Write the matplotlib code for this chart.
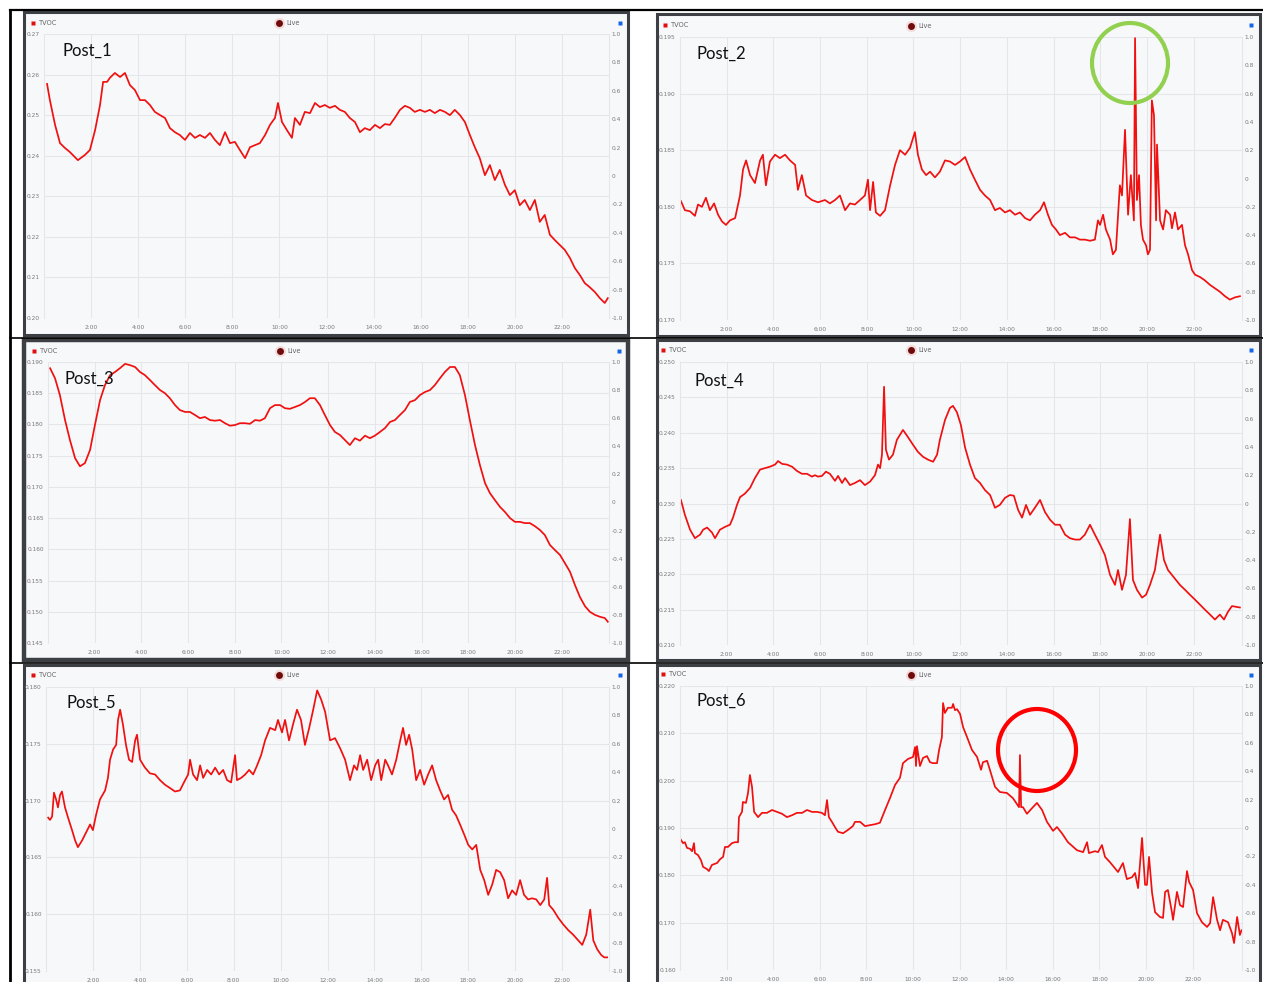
import matplotlib
matplotlib.use('Agg')
import matplotlib.pyplot as plt
from matplotlib.patches import Rectangle, Ellipse

W, H = 1263, 982

# ---------------- data ----------------
hour_ticks = [2, 4, 6, 8, 10, 12, 14, 16, 18, 20, 22]
hour_labels = ['2:00', '4:00', '6:00', '8:00', '10:00', '12:00', '14:00', '16:00', '18:00', '20:00', '22:00']
right_ticks = [1.0, 0.8, 0.6, 0.4, 0.2, 0.0, -0.2, -0.4, -0.6, -0.8, -1.0]
right_labels = ['1.0', '0.8', '0.6', '0.4', '0.2', '0', '-0.2', '-0.4', '-0.6', '-0.8', '-1.0']

p1_hours = [0.13, 0.25, 0.47, 0.68, 0.89, 1.10, 1.44, 1.74, 1.95, 2.17,
            2.38, 2.51, 2.68, 2.80, 3.01, 3.23, 3.44, 3.65, 3.86, 4.08,
            4.29, 4.50, 4.71, 4.93, 5.14, 5.35, 5.56, 5.77, 5.99, 6.20,
            6.41, 6.62, 6.84, 7.05, 7.26, 7.47, 7.69, 7.90, 8.11, 8.32,
            8.54, 8.75, 8.96, 9.17, 9.39, 9.60, 9.81, 9.94, 10.11, 10.32,
            10.53, 10.66, 10.87, 11.08, 11.30, 11.51, 11.72, 11.93, 12.14, 12.36,
            12.57, 12.78, 12.99, 13.21, 13.42, 13.63, 13.84, 14.06, 14.27, 14.48,
            14.69, 14.90, 15.12, 15.33, 15.54, 15.75, 15.97, 16.18, 16.39, 16.60,
            16.82, 17.03, 17.24, 17.45, 17.67, 17.88, 18.09, 18.30, 18.51, 18.73,
            18.94, 19.15, 19.36, 19.58, 19.79, 20.00, 20.21, 20.42, 20.64, 20.85,
            21.06, 21.27, 21.49, 21.70, 21.91, 22.12, 22.34, 22.55, 22.76, 22.97,
            23.18, 23.40, 23.61, 23.82, 23.95]
p1_tvoc = [0.2577, 0.2537, 0.2476, 0.2431, 0.2419, 0.2409, 0.2389, 0.2402, 0.2414, 0.2463,
           0.2525, 0.2582, 0.2582, 0.2592, 0.2604, 0.2594, 0.2604, 0.2574, 0.2562, 0.2537,
           0.2537, 0.2525, 0.2508, 0.2500, 0.2493, 0.2468, 0.2458, 0.2451, 0.2439, 0.2456,
           0.2444, 0.2451, 0.2444, 0.2456, 0.2439, 0.2426, 0.2458, 0.2431, 0.2434, 0.2414,
           0.2394, 0.2421, 0.2426, 0.2431, 0.2451, 0.2476, 0.2493, 0.2530, 0.2483, 0.2463,
           0.2444, 0.2493, 0.2476, 0.2508, 0.2505, 0.2530, 0.2520, 0.2525, 0.2518, 0.2523,
           0.2513, 0.2508, 0.2493, 0.2483, 0.2458, 0.2468, 0.2463, 0.2476, 0.2468, 0.2478,
           0.2476, 0.2493, 0.2513, 0.2523, 0.2518, 0.2508, 0.2513, 0.2508, 0.2513, 0.2505,
           0.2513, 0.2508, 0.2500, 0.2513, 0.2500, 0.2483, 0.2451, 0.2421, 0.2394, 0.2352,
           0.2377, 0.2340, 0.2365, 0.2328, 0.2303, 0.2315, 0.2278, 0.2291, 0.2266, 0.2291,
           0.2237, 0.2254, 0.2205, 0.2192, 0.2180, 0.2168, 0.2148, 0.2123, 0.2106, 0.2086,
           0.2076, 0.2064, 0.2049, 0.2037, 0.2049]
p1_yticks = [0.20, 0.21, 0.22, 0.23, 0.24, 0.25, 0.26, 0.27]

p2_hours = [0.04, 0.21, 0.43, 0.64, 0.77, 0.94, 1.11, 1.28, 1.46, 1.63,
            1.80, 1.97, 2.14, 2.36, 2.57, 2.70, 2.83, 3.00, 3.21, 3.43,
            3.55, 3.68, 3.85, 4.07, 4.28, 4.50, 4.71, 4.93, 5.05, 5.22,
            5.40, 5.65, 5.91, 6.21, 6.42, 6.64, 6.85, 7.07, 7.28, 7.49,
            7.71, 7.92, 8.05, 8.14, 8.27, 8.39, 8.57, 8.78, 9.00, 9.21,
            9.42, 9.64, 9.85, 10.06, 10.19, 10.36, 10.54, 10.71, 10.92, 11.13,
            11.35, 11.56, 11.78, 11.99, 12.21, 12.42, 12.63, 12.85, 13.06, 13.28,
            13.49, 13.70, 13.92, 14.13, 14.35, 14.56, 14.78, 14.99, 15.20, 15.42,
            15.59, 15.76, 15.93, 16.10, 16.27, 16.49, 16.70, 16.92, 17.13, 17.34,
            17.56, 17.77, 17.90, 17.99, 18.12, 18.24, 18.42, 18.54, 18.67, 18.84,
            18.93, 19.06, 19.19, 19.31, 19.44, 19.49, 19.57, 19.66, 19.74, 19.83,
            19.96, 20.04, 20.13, 20.21, 20.30, 20.39, 20.43, 20.56, 20.69, 20.81,
            20.99, 21.07, 21.20, 21.33, 21.50, 21.63, 21.76, 21.93, 22.06, 22.27,
            22.48, 22.70, 22.91, 23.12, 23.34, 23.55, 23.77, 23.98]
p2_tvoc = [0.1805, 0.1797, 0.1796, 0.1792, 0.1802, 0.1800, 0.1808, 0.1797, 0.1803, 0.1793,
           0.1787, 0.1784, 0.1788, 0.1790, 0.1810, 0.1833, 0.1841, 0.1828, 0.1821, 0.1841,
           0.1846, 0.1819, 0.1840, 0.1846, 0.1843, 0.1846, 0.1841, 0.1837, 0.1815, 0.1828,
           0.1810, 0.1806, 0.1804, 0.1806, 0.1803, 0.1806, 0.1810, 0.1797, 0.1803, 0.1802,
           0.1806, 0.1810, 0.1824, 0.1797, 0.1822, 0.1795, 0.1792, 0.1797, 0.1819, 0.1837,
           0.1850, 0.1846, 0.1852, 0.1866, 0.1846, 0.1833, 0.1828, 0.1831, 0.1826, 0.1831,
           0.1841, 0.1840, 0.1837, 0.1840, 0.1844, 0.1833, 0.1824, 0.1815, 0.1810, 0.1806,
           0.1797, 0.1799, 0.1795, 0.1797, 0.1793, 0.1795, 0.1790, 0.1788, 0.1793, 0.1797,
           0.1804, 0.1793, 0.1784, 0.1780, 0.1775, 0.1777, 0.1773, 0.1773, 0.1771, 0.1771,
           0.1770, 0.1771, 0.1788, 0.1784, 0.1793, 0.1780, 0.1771, 0.1758, 0.1762, 0.1819,
           0.1810, 0.1868, 0.1793, 0.1828, 0.1788, 0.1949, 0.1806, 0.1828, 0.1784, 0.1771,
           0.1766, 0.1758, 0.1762, 0.1894, 0.1881, 0.1788, 0.1855, 0.1788, 0.1780, 0.1797,
           0.1793, 0.1781, 0.1795, 0.1780, 0.1784, 0.1766, 0.1758, 0.1744, 0.1740, 0.1738,
           0.1735, 0.1731, 0.1728, 0.1725, 0.1721, 0.1718, 0.1720, 0.1721]
p2_yticks = [0.170, 0.175, 0.180, 0.185, 0.190, 0.195]

p3_hours = [0.09, 0.30, 0.51, 0.73, 0.94, 1.16, 1.37, 1.58, 1.80, 2.01,
            2.23, 2.44, 2.66, 2.87, 3.08, 3.30, 3.51, 3.73, 3.94, 4.15,
            4.37, 4.58, 4.80, 5.01, 5.22, 5.44, 5.65, 5.87, 6.08, 6.30,
            6.51, 6.72, 6.94, 7.15, 7.37, 7.58, 7.79, 8.01, 8.22, 8.44,
            8.65, 8.87, 9.08, 9.29, 9.51, 9.72, 9.94, 10.15, 10.36, 10.58,
            10.79, 11.01, 11.22, 11.43, 11.65, 11.86, 12.08, 12.29, 12.51, 12.72,
            12.93, 13.15, 13.36, 13.58, 13.79, 14.00, 14.22, 14.43, 14.65, 14.86,
            15.07, 15.29, 15.50, 15.72, 15.93, 16.15, 16.36, 16.57, 16.79, 17.00,
            17.22, 17.43, 17.64, 17.86, 18.07, 18.29, 18.50, 18.72, 18.93, 19.14,
            19.36, 19.57, 19.79, 20.00, 20.21, 20.43, 20.64, 20.86, 21.07, 21.28,
            21.50, 21.71, 21.93, 22.14, 22.36, 22.57, 22.78, 23.00, 23.21, 23.43,
            23.64, 23.85, 23.98]
p3_tvoc = [0.1890, 0.1874, 0.1847, 0.1807, 0.1775, 0.1746, 0.1733, 0.1738, 0.1759, 0.1799,
           0.1839, 0.1863, 0.1879, 0.1884, 0.1890, 0.1897, 0.1895, 0.1892, 0.1884, 0.1879,
           0.1871, 0.1863, 0.1855, 0.1850, 0.1842, 0.1831, 0.1823, 0.1820, 0.1820, 0.1815,
           0.1810, 0.1812, 0.1807, 0.1806, 0.1807, 0.1802, 0.1798, 0.1799, 0.1802, 0.1802,
           0.1801, 0.1807, 0.1806, 0.1810, 0.1826, 0.1831, 0.1831, 0.1826, 0.1825, 0.1828,
           0.1831, 0.1836, 0.1842, 0.1842, 0.1831, 0.1815, 0.1799, 0.1788, 0.1783, 0.1775,
           0.1767, 0.1778, 0.1774, 0.1782, 0.1778, 0.1782, 0.1788, 0.1794, 0.1804, 0.1807,
           0.1815, 0.1823, 0.1836, 0.1839, 0.1847, 0.1852, 0.1855, 0.1863, 0.1874, 0.1884,
           0.1892, 0.1892, 0.1879, 0.1847, 0.1807, 0.1767, 0.1735, 0.1706, 0.1690, 0.1679,
           0.1668, 0.1660, 0.1650, 0.1644, 0.1644, 0.1642, 0.1642, 0.1637, 0.1631, 0.1623,
           0.1607, 0.1599, 0.1591, 0.1578, 0.1564, 0.1543, 0.1524, 0.1509, 0.1500, 0.1495,
           0.1492, 0.1490, 0.1484]
p3_yticks = [0.145, 0.150, 0.155, 0.160, 0.165, 0.170, 0.175, 0.180, 0.185, 0.190]

p4_hours = [0.04, 0.21, 0.43, 0.64, 0.86, 0.99, 1.16, 1.37, 1.50, 1.71,
            1.93, 2.14, 2.27, 2.44, 2.57, 2.78, 3.00, 3.21, 3.43, 3.64,
            3.85, 4.07, 4.20, 4.37, 4.58, 4.80, 5.01, 5.22, 5.44, 5.65,
            5.78, 5.91, 6.08, 6.25, 6.42, 6.51, 6.64, 6.77, 6.94, 7.07,
            7.28, 7.49, 7.71, 7.92, 8.14, 8.35, 8.48, 8.57, 8.65, 8.74,
            8.82, 8.95, 9.12, 9.29, 9.55, 9.76, 9.98, 10.19, 10.41, 10.62,
            10.84, 11.01, 11.13, 11.35, 11.56, 11.69, 11.86, 12.03, 12.21, 12.42,
            12.63, 12.85, 13.06, 13.28, 13.49, 13.70, 13.92, 14.13, 14.30, 14.48,
            14.65, 14.82, 14.99, 15.20, 15.42, 15.63, 15.85, 16.06, 16.27, 16.49,
            16.70, 16.92, 17.13, 17.34, 17.56, 17.77, 17.99, 18.20, 18.42, 18.63,
            18.76, 18.93, 19.10, 19.27, 19.40, 19.57, 19.79, 19.96, 20.13, 20.34,
            20.56, 20.73, 20.90, 21.07, 21.24, 21.41, 21.63, 21.84, 22.06, 22.27,
            22.48, 22.70, 22.91, 23.12, 23.30, 23.47, 23.64, 23.81, 23.98]
p4_tvoc = [0.2305, 0.2284, 0.2263, 0.2251, 0.2256, 0.2263, 0.2266, 0.2259, 0.2251, 0.2263,
           0.2267, 0.2270, 0.2280, 0.2298, 0.2309, 0.2314, 0.2322, 0.2336, 0.2348, 0.2350,
           0.2352, 0.2355, 0.2360, 0.2356, 0.2355, 0.2352, 0.2346, 0.2342, 0.2342, 0.2338,
           0.2340, 0.2338, 0.2339, 0.2345, 0.2342, 0.2338, 0.2332, 0.2339, 0.2329, 0.2336,
           0.2326, 0.2329, 0.2333, 0.2326, 0.2331, 0.2340, 0.2355, 0.2350, 0.2369, 0.2465,
           0.2376, 0.2362, 0.2369, 0.2390, 0.2404, 0.2394, 0.2383, 0.2373, 0.2366, 0.2362,
           0.2359, 0.2369, 0.2390, 0.2418, 0.2435, 0.2438, 0.2429, 0.2411, 0.2379, 0.2355,
           0.2336, 0.2329, 0.2319, 0.2312, 0.2294, 0.2298, 0.2308, 0.2312, 0.2311, 0.2291,
           0.2280, 0.2298, 0.2284, 0.2294, 0.2305, 0.2288, 0.2277, 0.2270, 0.2270, 0.2256,
           0.2251, 0.2249, 0.2249, 0.2256, 0.2270, 0.2256, 0.2242, 0.2227, 0.2199, 0.2185,
           0.2206, 0.2178, 0.2199, 0.2278, 0.2192, 0.2178, 0.2167, 0.2171, 0.2185, 0.2206,
           0.2256, 0.2220, 0.2206, 0.2199, 0.2192, 0.2185, 0.2178, 0.2171, 0.2164, 0.2157,
           0.2150, 0.2143, 0.2136, 0.2143, 0.2136, 0.2147, 0.2155, 0.2154, 0.2153]
p4_yticks = [0.210, 0.215, 0.220, 0.225, 0.230, 0.235, 0.240, 0.245, 0.250]

p5_hours = [0.09, 0.17, 0.26, 0.34, 0.43, 0.51, 0.60, 0.68, 0.81, 0.94,
            1.11, 1.24, 1.36, 1.54, 1.71, 1.88, 2.00, 2.13, 2.30, 2.52,
            2.64, 2.73, 2.86, 2.99, 3.07, 3.16, 3.28, 3.41, 3.54, 3.67,
            3.80, 3.88, 4.01, 4.22, 4.43, 4.65, 4.86, 5.07, 5.29, 5.50,
            5.71, 5.93, 6.06, 6.14, 6.27, 6.44, 6.57, 6.70, 6.87, 7.04,
            7.21, 7.38, 7.55, 7.72, 7.89, 8.06, 8.14, 8.32, 8.49, 8.66,
            8.83, 9.00, 9.17, 9.34, 9.55, 9.77, 9.89, 10.06, 10.19, 10.36,
            10.53, 10.70, 10.87, 11.04, 11.22, 11.39, 11.56, 11.73, 11.90, 12.11,
            12.32, 12.54, 12.75, 12.96, 13.13, 13.26, 13.39, 13.52, 13.69, 13.86,
            14.03, 14.16, 14.29, 14.46, 14.58, 14.75, 14.93, 15.10, 15.22, 15.35,
            15.48, 15.61, 15.78, 15.95, 16.12, 16.29, 16.46, 16.63, 16.80, 16.97,
            17.14, 17.31, 17.48, 17.65, 17.83, 18.00, 18.17, 18.34, 18.51, 18.68,
            18.85, 19.02, 19.19, 19.36, 19.53, 19.70, 19.87, 20.04, 20.21, 20.38,
            20.55, 20.72, 20.90, 21.07, 21.24, 21.36, 21.45, 21.62, 21.83, 22.05,
            22.26, 22.47, 22.69, 22.86, 23.03, 23.20, 23.33, 23.50, 23.67, 23.80,
            23.92]
p5_tvoc = [0.1685, 0.1683, 0.1686, 0.1707, 0.1701, 0.1694, 0.1705, 0.1708, 0.1694, 0.1685,
           0.1674, 0.1665, 0.1659, 0.1665, 0.1672, 0.1679, 0.1674, 0.1687, 0.1701, 0.1709,
           0.1720, 0.1736, 0.1745, 0.1749, 0.1771, 0.1780, 0.1767, 0.1749, 0.1736, 0.1734,
           0.1753, 0.1758, 0.1736, 0.1729, 0.1724, 0.1723, 0.1718, 0.1714, 0.1711, 0.1708,
           0.1709, 0.1718, 0.1723, 0.1736, 0.1723, 0.1718, 0.1731, 0.1720, 0.1727, 0.1723,
           0.1729, 0.1723, 0.1727, 0.1718, 0.1716, 0.1740, 0.1718, 0.1720, 0.1723, 0.1727,
           0.1723, 0.1731, 0.1740, 0.1753, 0.1764, 0.1762, 0.1771, 0.1760, 0.1771, 0.1753,
           0.1767, 0.1780, 0.1771, 0.1749, 0.1764, 0.1780, 0.1797, 0.1789, 0.1778, 0.1753,
           0.1755, 0.1746, 0.1736, 0.1718, 0.1731, 0.1727, 0.1740, 0.1727, 0.1736, 0.1718,
           0.1731, 0.1736, 0.1718, 0.1736, 0.1731, 0.1723, 0.1736, 0.1753, 0.1764, 0.1749,
           0.1758, 0.1745, 0.1718, 0.1727, 0.1714, 0.1723, 0.1731, 0.1718, 0.1709, 0.1701,
           0.1705, 0.1692, 0.1687, 0.1679, 0.1670, 0.1661, 0.1657, 0.1661, 0.1639, 0.1630,
           0.1617, 0.1626, 0.1639, 0.1637, 0.1630, 0.1614, 0.1621, 0.1617, 0.1630, 0.1617,
           0.1613, 0.1614, 0.1613, 0.1608, 0.1613, 0.1632, 0.1608, 0.1604, 0.1597, 0.1591,
           0.1586, 0.1582, 0.1577, 0.1573, 0.1582, 0.1604, 0.1577, 0.1569, 0.1564, 0.1562,
           0.1562]
p5_yticks = [0.155, 0.160, 0.165, 0.170, 0.175, 0.180]

p6_hours = [0.04, 0.13, 0.21, 0.30, 0.43, 0.52, 0.60, 0.64, 0.77, 0.90,
            0.99, 1.16, 1.24, 1.37, 1.59, 1.72, 1.85, 1.93, 2.06, 2.23,
            2.36, 2.49, 2.53, 2.66, 2.70, 2.83, 2.92, 3.00, 3.09, 3.18,
            3.35, 3.52, 3.73, 3.95, 4.16, 4.38, 4.59, 4.81, 5.02, 5.24,
            5.45, 5.67, 5.88, 6.09, 6.22, 6.31, 6.39, 6.52, 6.65, 6.78,
            7.00, 7.21, 7.42, 7.51, 7.73, 7.94, 8.15, 8.37, 8.58, 8.80,
            9.01, 9.23, 9.44, 9.57, 9.79, 10.00, 10.09, 10.13, 10.17, 10.30,
            10.43, 10.60, 10.73, 10.86, 11.03, 11.12, 11.24, 11.29, 11.37, 11.50,
            11.67, 11.72, 11.80, 11.89, 12.02, 12.15, 12.32, 12.53, 12.75, 12.92,
            13.00, 13.18, 13.30, 13.52, 13.73, 14.03, 14.29, 14.55, 14.59, 14.64,
            14.72, 14.89, 15.11, 15.32, 15.54, 15.75, 16.01, 16.18, 16.39, 16.65,
            17.04, 17.30, 17.47, 17.55, 17.81, 17.94, 18.11, 18.24, 18.45, 18.80,
            19.01, 19.18, 19.40, 19.53, 19.66, 19.83, 19.96, 20.04, 20.13, 20.26,
            20.39, 20.60, 20.73, 20.82, 20.94, 21.12, 21.16, 21.33, 21.46, 21.59,
            21.76, 21.85, 22.02, 22.19, 22.40, 22.62, 22.75, 22.88, 23.05, 23.18,
            23.30, 23.52, 23.69, 23.78, 23.91, 24.03, 24.10]
p6_tvoc = [0.1875, 0.1868, 0.1870, 0.1858, 0.1856, 0.1851, 0.1868, 0.1847, 0.1843, 0.1832,
           0.1818, 0.1813, 0.1809, 0.1822, 0.1826, 0.1834, 0.1839, 0.1860, 0.1860, 0.1868,
           0.1870, 0.1870, 0.1923, 0.1934, 0.1955, 0.1953, 0.1974, 0.2012, 0.1987, 0.1934,
           0.1923, 0.1932, 0.1932, 0.1938, 0.1934, 0.1930, 0.1923, 0.1927, 0.1932, 0.1932,
           0.1938, 0.1934, 0.1934, 0.1932, 0.1927, 0.1959, 0.1923, 0.1913, 0.1902, 0.1892,
           0.1889, 0.1896, 0.1904, 0.1913, 0.1913, 0.1904, 0.1906, 0.1908, 0.1911, 0.1938,
           0.1963, 0.1991, 0.2006, 0.2037, 0.2046, 0.2050, 0.2071, 0.2031, 0.2073, 0.2031,
           0.2048, 0.2052, 0.2039, 0.2037, 0.2037, 0.2065, 0.2092, 0.2164, 0.2143, 0.2154,
           0.2154, 0.2162, 0.2149, 0.2151, 0.2141, 0.2113, 0.2092, 0.2065, 0.2050, 0.2023,
           0.2039, 0.2042, 0.2023, 0.1987, 0.1976, 0.1974, 0.1963, 0.1944, 0.2054, 0.1944,
           0.1944, 0.1930, 0.1942, 0.1953, 0.1938, 0.1913, 0.1894, 0.1902, 0.1889, 0.1870,
           0.1853, 0.1849, 0.1870, 0.1847, 0.1851, 0.1849, 0.1864, 0.1839, 0.1828, 0.1807,
           0.1826, 0.1792, 0.1796, 0.1805, 0.1773, 0.1879, 0.1780, 0.1780, 0.1839, 0.1763,
           0.1722, 0.1712, 0.1710, 0.1765, 0.1769, 0.1720, 0.1706, 0.1765, 0.1737, 0.1733,
           0.1809, 0.1786, 0.1769, 0.1720, 0.1701, 0.1691, 0.1699, 0.1754, 0.1706, 0.1684,
           0.1706, 0.1701, 0.1678, 0.1657, 0.1712, 0.1674, 0.1684]
p6_yticks = [0.160, 0.170, 0.180, 0.190, 0.200, 0.210, 0.220]

titles = ['Post_1', 'Post_2', 'Post_3', 'Post_4', 'Post_5', 'Post_6']

# ---------------- layout (pixels) ----------------
panels = [
    dict(title=titles[0], hours=p1_hours, vals=p1_tvoc, yt=p1_yticks, fmt='{:.2f}',
         frame=(24, 12, 628, 335), plot=(44, 34, 609, 318), xmax=24.0,
         label=(63, 51), tvoc=(33, 23), live=(279, 23), blue=(620, 23), fw=2.2),
    dict(title=titles[1], hours=p2_hours, vals=p2_tvoc, yt=p2_yticks, fmt='{:.3f}',
         frame=(657, 14, 1260, 336), plot=(680, 37, 1242, 320), xmax=24.07,
         label=(697, 54), tvoc=(665, 25), live=(911, 26), blue=(1251, 25), fw=2.2),
    dict(title=titles[2], hours=p3_hours, vals=p3_tvoc, yt=p3_yticks, fmt='{:.3f}',
         frame=(24, 340, 628, 660), plot=(48, 362, 609, 643), xmax=24.03,
         label=(65, 379), tvoc=(34, 351), live=(280, 351), blue=(619, 351), fw=3.2),
    dict(title=titles[3], hours=p4_hours, vals=p4_tvoc, yt=p4_yticks, fmt='{:.3f}',
         frame=(657, 340, 1260, 660), plot=(680, 362, 1242, 645), xmax=24.07,
         label=(694, 381), tvoc=(663, 350), live=(911, 350), blue=(1251, 350), fw=2.2),
    dict(title=titles[4], hours=p5_hours, vals=p5_tvoc, yt=p5_yticks, fmt='{:.3f}',
         frame=(24, 665, 628, 990), plot=(46, 687, 609, 971), xmax=24.0,
         label=(67, 703), tvoc=(33, 675), live=(279, 675), blue=(620, 675), fw=2.2),
    dict(title=titles[5], hours=p6_hours, vals=p6_tvoc, yt=p6_yticks, fmt='{:.3f}',
         frame=(657, 665, 1260, 990), plot=(680, 686, 1242, 970), xmax=24.12,
         label=(696, 701), tvoc=(663, 674), live=(911, 675), blue=(1251, 675), fw=2.2),
]

fig = plt.figure(figsize=(W / 100, H / 100), dpi=100)
fig.patch.set_facecolor('white')

def rect(x0, y0, x1, y1):
    return [x0 / W, 1 - y1 / H, (x1 - x0) / W, (y1 - y0) / H]

# background overlay (frames, table lines)
bg = fig.add_axes([0, 0, 1, 1])
bg.set_xlim(0, W); bg.set_ylim(H, 0); bg.axis('off'); bg.set_zorder(0)
for p in panels:
    x0, y0, x1, y1 = p['frame']
    bg.add_patch(Rectangle((x0, y0), x1 - x0, y1 - y0, facecolor='#f7f8fa',
                           edgecolor='#3c3f44', lw=p['fw']))
bg.plot([10, 10], [10, H], color='black', lw=2.0)
bg.plot([10, W], [10, 10], color='black', lw=1.6)
bg.plot([10, W], [338, 338], color='black', lw=1.2)
bg.plot([10, W], [663, 663], color='black', lw=1.2)

GRID = '#e4e6ea'
TICKC = '#7a7a7a'
TFS = 4.2

for i, p in enumerate(panels):
    ax = fig.add_axes(rect(*p['plot']))
    ax.set_zorder(2)
    ax.patch.set_alpha(0)
    ax.plot(p['hours'], p['vals'], color='#f01010', lw=1.25, solid_joinstyle='round')
    ax.set_xlim(0, p['xmax'])
    ax.set_ylim(p['yt'][0], p['yt'][-1])
    ax.set_yticks(p['yt'])
    ax.set_yticklabels([p['fmt'].format(v) for v in p['yt']])
    ax.set_xticks(hour_ticks)
    ax.set_xticklabels(hour_labels)
    ax.grid(True, color=GRID, lw=0.8)
    ax.set_axisbelow(True)
    ax.tick_params(axis='both', length=0, labelsize=TFS, labelcolor=TICKC)
    ax.tick_params(axis='y', pad=3)
    ax.tick_params(axis='x', pad=5)
    for s in ['top', 'bottom']:
        ax.spines[s].set_visible(False)
    for s in ['left', 'right']:
        ax.spines[s].set_color(GRID)
        ax.spines[s].set_linewidth(0.8)
    ax2 = ax.twinx()
    ax2.set_ylim(-1, 1)
    ax2.set_yticks(right_ticks)
    ax2.set_yticklabels(right_labels)
    ax2.tick_params(axis='y', length=0, labelsize=TFS, labelcolor=TICKC, pad=2)
    for s in ax2.spines.values():
        s.set_visible(False)

# foreground overlay (legend items, labels, circles)
fg = fig.add_axes([0, 0, 1, 1])
fg.set_xlim(0, W); fg.set_ylim(H, 0); fg.axis('off'); fg.set_zorder(5)
fg.patch.set_alpha(0)
for p in panels:
    tx, ty = p['tvoc']
    fg.plot([tx], [ty], marker='s', ms=3.3, color='#e01010', mec='none')
    fg.text(tx + 6, ty, 'TVOC', fontsize=4.8, color='#666666', va='center', ha='left')
    lx, ly = p['live']
    fg.plot([lx], [ly], marker='o', ms=8, color='#f3c9c9', mec='none', alpha=0.6)
    fg.plot([lx], [ly], marker='o', ms=5, color='#6e0c0c', mec='none')
    fg.text(lx + 7, ly, 'Live', fontsize=4.8, color='#666666', va='center', ha='left')
    bx, by = p['blue']
    fg.plot([bx], [by], marker='s', ms=3.3, color='#1565e8', mec='none')
    fx, fy = p['label']
    fg.text(fx, fy, p['title'], fontsize=12, family=['Lato', 'DejaVu Sans'],
            color='#111111', va='center', ha='left')

fg.add_patch(Ellipse((1130, 63), 76, 80, fill=False, edgecolor='#92d050', lw=3.0))
fg.add_patch(Ellipse((1037, 750), 78, 82, fill=False, edgecolor='#ff0000', lw=3.0))

fig.savefig('out.png', dpi=100, facecolor='white')
